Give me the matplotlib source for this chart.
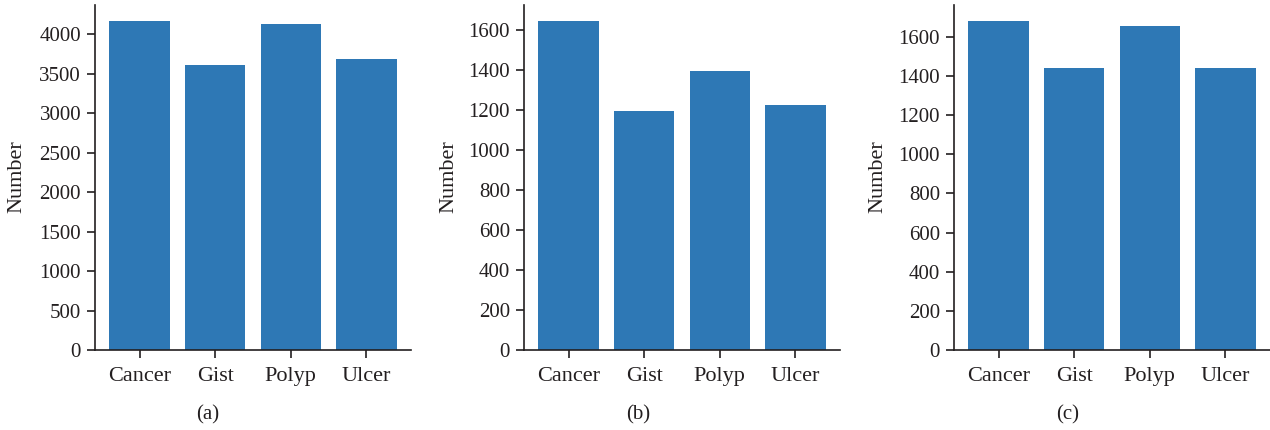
import matplotlib
matplotlib.use("Agg")
import matplotlib.pyplot as plt

categories = ["Cancer", "Gist", "Polyp", "Ulcer"]
counts_a = [4161, 3603, 4123, 3680]
counts_b = [1643, 1197, 1393, 1227]
counts_c = [1678, 1438, 1653, 1438]
panel_labels = ["(a)", "(b)", "(c)"]
yticks_a = [0, 500, 1000, 1500, 2000, 2500, 3000, 3500, 4000]
yticks_bc = [0, 200, 400, 600, 800, 1000, 1200, 1400, 1600]

bar_color = "#2e78b5"
ink = "#231f20"

plt.rcParams["font.family"] = ["Liberation Serif", "DejaVu Serif"]

W, H = 1270, 430
fig = plt.figure(figsize=(W / 100, H / 100), dpi=100)

lefts = [95, 524, 954]
ax_w = 316
ax_bottom = 350
ax_top = 5
caption_x = [208, 638, 1068]
ylabel_x = [17, 449, 878]

series = [counts_a, counts_b, counts_c]
tick_sets = [yticks_a, yticks_bc, yticks_bc]

for i in range(3):
    ax = fig.add_axes([lefts[i] / W, (H - ax_bottom) / H,
                       ax_w / W, (ax_bottom - ax_top) / H])
    x = range(len(categories))
    ax.bar(x, series[i], width=0.8, color=bar_color)
    ax.set_xticks(list(x))
    ax.set_xticklabels(categories)
    ax.set_yticks(tick_sets[i])
    ax.margins(x=0.05, y=0.05)
    ax.set_ylim(0, max(series[i]) * 1.05)
    for s in ("top", "right"):
        ax.spines[s].set_visible(False)
    for s in ("left", "bottom"):
        ax.spines[s].set_linewidth(1.2)
        ax.spines[s].set_color(ink)
    ax.tick_params(axis="both", length=6, width=1.2, color=ink,
                   labelcolor=ink, pad=4)
    ax.tick_params(axis="y", labelsize=15)
    ax.tick_params(axis="x", labelsize=16, pad=6)
    fig.text(ylabel_x[i] / W, (H - 177) / H, "Number", rotation=90,
             ha="center", va="center", fontsize=16, color=ink)
    fig.text(caption_x[i] / W, (H - 415) / H, panel_labels[i],
             ha="center", va="center", fontsize=15, color=ink)

fig.savefig("out.png", dpi=100)
